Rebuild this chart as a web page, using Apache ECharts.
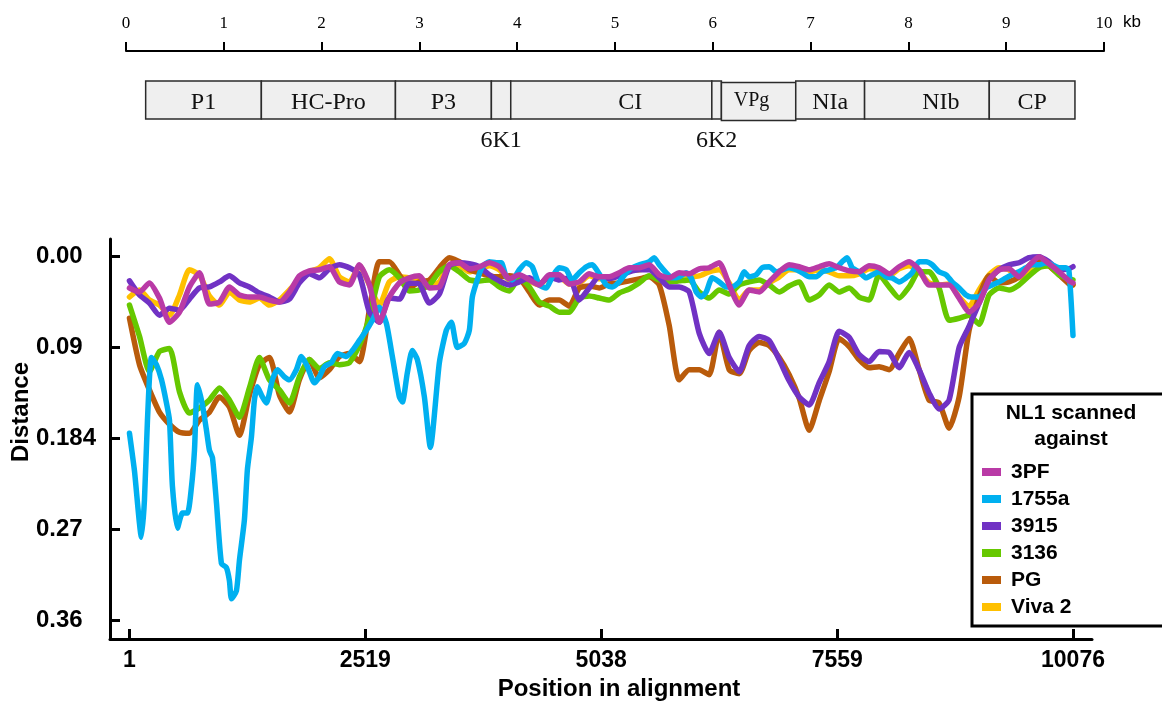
<!DOCTYPE html>
<html><head><meta charset="utf-8">
<script src="https://cdn.jsdelivr.net/npm/echarts@6/dist/echarts.min.js"></script>
<style>html,body{margin:0;padding:0;background:#fff}#c{width:1162px;height:702px}</style>
</head><body><div id="c"></div>
<script>
// ---------- data ----------
const positions = [1,108,214,321,428,535,641,748,855,962,
1068,1175,1282,1388,1495,1602,1709,1815,1922,2029,
2136,2242,2349,2456,2563,2669,2776,2883,2989,3096,
3203,3310,3416,3523,3630,3737,3843,3950,4057,4163,
4270,4377,4484,4590,4697,4804,4911,5017,5124,5231,
5338,5444,5551,5658,5764,5871,5978,6085,6191,6298,
6405,6512,6618,6725,6832,6939,7045,7152,7259,7365,
7472,7579,7686,7792,7899,8006,8113,8219,8326,8433,
8539,8646,8753,8860,8966,9073,9180,9287,9393,9500,
9607,9714,9820,9927,10034,10076];

const dist3PF = [.031,.035,.026,.041,.065,.055,.030,.016,.047,.045,
.030,.038,.040,.040,.043,.045,.035,.019,.014,.013,
.010,.025,.028,.008,.028,.065,.040,.026,.021,.019,
.031,.030,.008,.006,.012,.010,.006,.010,.022,.018,
.023,.028,.018,.018,.027,.025,.017,.020,.020,.016,
.011,.011,.008,.018,.021,.016,.017,.012,.011,.006,
.028,.048,.033,.035,.025,.015,.008,.010,.013,.010,
.007,.011,.014,.015,.009,.011,.017,.010,.005,.013,
.028,.028,.028,.041,.055,.046,.023,.013,.012,.020,
.009,.000,.007,.015,.024,.026];

const distViva2 = [.040,.033,.043,.048,.058,.038,.013,.018,.039,.048,
.035,.043,.045,.041,.048,.043,.033,.023,.015,.011,
.002,.020,.025,.009,.028,.048,.025,.020,.021,.022,
.029,.025,.009,.009,.015,.012,.009,.013,.023,.020,
.024,.028,.020,.020,.027,.026,.019,.022,.022,.018,
.014,.013,.011,.020,.023,.019,.020,.019,.015,.013,
.026,.043,.033,.033,.026,.020,.013,.013,.015,.013,
.015,.019,.019,.017,.012,.013,.019,.012,.009,.015,
.026,.028,.027,.040,.049,.033,.018,.011,.013,.021,
.013,.003,.009,.017,.026,.028];

const dist3915 = [.024,.038,.046,.058,.051,.053,.042,.031,.030,.025,
.019,.026,.030,.036,.040,.045,.042,.026,.017,.021,
.012,.008,.011,.018,.055,.065,.041,.042,.026,.027,
.046,.037,.009,.006,.007,.010,.018,.024,.028,.025,
.021,.027,.020,.023,.021,.043,.031,.020,.022,.019,
.015,.013,.013,.021,.030,.030,.035,.076,.096,.075,
.100,.114,.088,.079,.083,.102,.123,.139,.147,.125,
.104,.074,.080,.097,.104,.094,.095,.110,.095,.112,
.135,.151,.142,.090,.069,.046,.023,.013,.008,.006,
.001,.000,.005,.013,.012,.010];

const dist3136 = [.048,.079,.114,.094,.091,.134,.155,.150,.142,.130,
.142,.159,.130,.100,.122,.132,.145,.119,.102,.111,
.105,.107,.105,.088,.060,.020,.013,.021,.034,.033,
.028,.015,.009,.015,.023,.024,.023,.030,.034,.021,
.030,.045,.049,.055,.055,.041,.039,.041,.043,.036,
.032,.026,.019,.023,.025,.024,.023,.035,.041,.033,
.037,.028,.025,.023,.028,.035,.029,.025,.043,.038,
.028,.035,.031,.040,.043,.018,.030,.041,.030,.015,
.015,.031,.063,.061,.058,.067,.038,.031,.033,.028,
.019,.011,.009,.018,.022,.023];

const distPG = [.061,.107,.132,.154,.166,.174,.175,.162,.154,.139,
.149,.177,.137,.107,.100,.137,.154,.122,.102,.120,
.112,.099,.096,.104,.053,.005,.005,.018,.031,.025,
.023,.011,.001,.005,.013,.016,.019,.020,.019,.021,
.035,.048,.043,.043,.049,.031,.029,.031,.027,.026,
.024,.022,.020,.028,.068,.122,.112,.112,.117,.075,
.112,.116,.093,.085,.088,.100,.117,.140,.172,.143,
.114,.081,.089,.102,.110,.109,.112,.096,.081,.112,
.142,.145,.170,.139,.073,.040,.019,.026,.025,.020,
.009,.003,.009,.018,.027,.028];

const positions1755a = [1,54,129,161,193,236,289,343,396,428,
460,513,567,620,663,695,727,780,823,855,
887,930,983,1036,1068,1090,1143,1175,1228,1260,
1303,1335,1367,1420,1463,1527,1581,1655,1709,1783,
1837,1901,1976,2029,2082,2157,2221,2317,2381,2456,
2531,2595,2669,2744,2808,2883,2915,2968,3021,3075,
3150,3214,3310,3384,3438,3502,3576,3630,3662,3715,
3769,3843,3918,3971,4025,4089,4163,4238,4302,4377,
4451,4515,4590,4665,4729,4804,4879,4943,5017,5092,
5156,5231,5306,5370,5444,5551,5604,5658,5733,5796,
5871,5946,5999,6053,6106,6159,6223,6298,6373,6437,
6512,6565,6618,6693,6757,6832,6907,6971,7045,7120,
7184,7259,7334,7398,7472,7547,7611,7664,7718,7792,
7867,7931,8006,8081,8145,8219,8294,8358,8433,8508,
8572,8646,8721,8785,8860,8935,8988,9073,9148,9212,
9287,9361,9425,9500,9575,9639,9714,9788,9852,9927,
10002,10034,10076];
const dist1755a = [.175,.212,.278,.241,.162,.100,.107,.122,.145,.162,
.228,.269,.254,.254,.228,.192,.127,.147,.172,.192,
.199,.244,.304,.308,.321,.339,.331,.301,.261,.211,
.179,.142,.129,.139,.145,.122,.112,.119,.122,.112,
.099,.109,.125,.119,.109,.105,.096,.099,.093,.083,
.073,.063,.050,.066,.099,.139,.144,.115,.093,.102,
.139,.189,.105,.073,.065,.090,.086,.073,.040,.023,
.010,.005,.006,.006,.020,.023,.013,.006,.010,.028,
.031,.020,.011,.013,.023,.016,.010,.008,.017,.028,
.030,.025,.016,.011,.008,.005,.001,.008,.016,.021,
.020,.016,.021,.035,.040,.035,.021,.025,.030,.030,
.025,.015,.020,.018,.011,.010,.015,.013,.011,.013,
.016,.020,.020,.015,.013,.011,.005,.001,.011,.015,
.021,.018,.015,.020,.021,.025,.021,.016,.005,.005,
.008,.015,.018,.025,.031,.038,.040,.040,.031,.028,
.025,.021,.018,.015,.011,.008,.008,.006,.008,.011,
.011,.015,.078];

const legendOrder = ['3PF','1755a','3915','3136','PG','Viva 2'];
const xTicks = [1,2519,5038,7559,10076];
const yTicks = [0,0.09,0.18,0.27,0.36];
const yTickLabels = ['0.00','0.09','0.184','0.27','0.36'];

const genes = ['P1','HC-Pro','P3','6K1','CI','6K2','VPg','NIa','NIb','CP'];
const geneStartKb = [0.201,1.384,2.755,3.736,3.934,5.990,6.088,6.848,7.552,8.827];
const geneEndKb   = [1.384,2.755,3.736,3.934,5.990,6.088,6.848,7.552,8.827,9.703];

// ---------- style ----------
const colors = {'3PF':'#b93aa6','1755a':'#00b0f0','3915':'#7132c4','3136':'#66c800','PG':'#b95b0b','Viva 2':'#ffc000'};
const SANS = '"Liberation Sans", Arial, sans-serif';
const SERIF = '"Liberation Serif", "Times New Roman", serif';
const labelShiftPx = {CI:19, NIb:14, VPg:-7};

const pair = (xs, ys) => xs.map((x,i)=>[x, ys[i]]);
const seriesData = {
  '3PF': pair(positions, dist3PF),
  '1755a': pair(positions1755a, dist1755a),
  '3915': pair(positions, dist3915),
  '3136': pair(positions, dist3136),
  'PG': pair(positions, distPG),
  'Viva 2': pair(positions, distViva2)
};
const drawOrder = ['Viva 2','PG','3136','3915','1755a','3PF'];

const lineSeries = drawOrder.map((name, k) => ({
  name, type:'line', xAxisIndex:0, yAxisIndex:0,
  data: seriesData[name], showSymbol:false, smooth:0.2,
  lineStyle:{width:5.5, color:colors[name], cap:'round', join:'round'},
  itemStyle:{color:colors[name]}, z:2+k, silent:true
}));

const geneSeries = {
  type:'custom', xAxisIndex:2, yAxisIndex:2, silent:true, clip:false,
  data: genes.map((g,i)=>[geneStartKb[i], geneEndKb[i], i]),
  renderItem(params, api){
    const i = api.value(2);
    const name = genes[i];
    const p0 = api.coord([api.value(0), 1]);
    const p1 = api.coord([api.value(1), 0]);
    const dy = name === 'VPg' ? 1.5 : 0;
    const w = p1[0]-p0[0], h = p1[1]-p0[1];
    const small = w < 30;
    const cx = (p0[0]+p1[0])/2 + (labelShiftPx[name]||0);
    const children = [{
      type:'rect', shape:{x:p0[0], y:p0[1]+dy, width:w, height:h},
      style:{fill:'#efefef', stroke:'#2b2b2b', lineWidth:1.5}
    }];
    children.push({
      type:'text',
      style:{text:name, x:cx, y: small ? p1[1]+22 : (name==='VPg' ? p0[1]+h/2+1 : p0[1]+h/2+3),
        align:'center', verticalAlign:'middle',
        fontFamily:SERIF, fontSize: name==='VPg' ? 20 : 24, fill:'#111'}
    });
    return {type:'group', children};
  }
};

const chart = echarts.init(document.getElementById('c'), null, {renderer:'canvas'});
chart.setOption({
  animation:false,
  backgroundColor:'#fff',
  textStyle:{fontFamily:SANS},
  grid:[
    {left:110, top:239, width:982, height:400},
    {left:126, top:20, width:978, height:31},
    {left:126, top:81, width:978, height:38}
  ],
  xAxis:[
    {gridIndex:0, type:'value', min:-207, max:10279,
      axisLine:{show:true, onZero:false, lineStyle:{color:'#000', width:3}},
      axisTick:{show:true, inside:true, length:10, customValues:xTicks, lineStyle:{color:'#000', width:3}},
      axisLabel:{customValues:xTicks, fontSize:23, fontWeight:'bold', color:'#000', margin:10, fontFamily:SANS,
        formatter:(v)=>String(Math.round(v))},
      splitLine:{show:false}},
    {gridIndex:1, type:'value', min:0, max:10, interval:1,
      axisLine:{show:true, onZero:false, lineStyle:{color:'#000', width:2}},
      axisTick:{show:true, inside:true, length:9, lineStyle:{color:'#000', width:2}},
      axisLabel:{inside:true, margin:19, fontFamily:SERIF, fontSize:17, color:'#000'},
      splitLine:{show:false}},
    {gridIndex:2, type:'value', min:0, max:10, show:false}
  ],
  yAxis:[
    {gridIndex:0, type:'value', inverse:true, min:-0.0175, max:0.3788,
      axisLine:{show:true, onZero:false, lineStyle:{color:'#000', width:3}},
      axisTick:{show:true, inside:true, length:10, customValues:yTicks, lineStyle:{color:'#000', width:3}},
      axisLabel:{customValues:yTicks, fontSize:24, fontWeight:'bold', color:'#000', margin:74, align:'left', fontFamily:SANS,
        formatter:(v)=>{const i = yTicks.findIndex(t=>Math.abs(t-v)<1e-6); return i>=0 ? yTickLabels[i] : '';}},
      splitLine:{show:false}},
    {gridIndex:1, type:'value', min:0, max:1, show:false},
    {gridIndex:2, type:'value', min:0, max:1, show:false}
  ],
  legend:{
    data:legendOrder, orient:'vertical', left:977, top:456,
    itemWidth:19, itemHeight:8, itemGap:5, icon:'rect', selectedMode:false,
    textStyle:{fontSize:21, fontWeight:'bold', color:'#000', lineHeight:22, padding:[0,0,0,5], fontFamily:SANS},
    z:10
  },
  graphic:[
    {type:'rect', z:9, shape:{x:972, y:394, width:220, height:232}, style:{fill:'#fff', stroke:'#000', lineWidth:3}},
    {type:'text', z:10, x:1071, y:413, style:{text:'NL1 scanned', align:'center', verticalAlign:'middle', fontFamily:SANS, fontSize:21, fontWeight:'bold', fill:'#000'}},
    {type:'text', z:10, x:1071, y:439, style:{text:'against', align:'center', verticalAlign:'middle', fontFamily:SANS, fontSize:21, fontWeight:'bold', fill:'#000'}},
    {type:'text', x:21, y:412, rotation:Math.PI/2, style:{text:'Distance', align:'center', verticalAlign:'middle', fontFamily:SANS, fontSize:24, fontWeight:'bold', fill:'#000'}},
    {type:'text', x:619, y:689, style:{text:'Position in alignment', align:'center', verticalAlign:'middle', fontFamily:SANS, fontSize:24, fontWeight:'bold', fill:'#000'}},
    {type:'text', x:1123, y:22, style:{text:'kb', align:'left', verticalAlign:'middle', fontFamily:SANS, fontSize:17, fill:'#000'}}
  ],
  series:[...lineSeries, geneSeries]
});
</script>
</body></html>
